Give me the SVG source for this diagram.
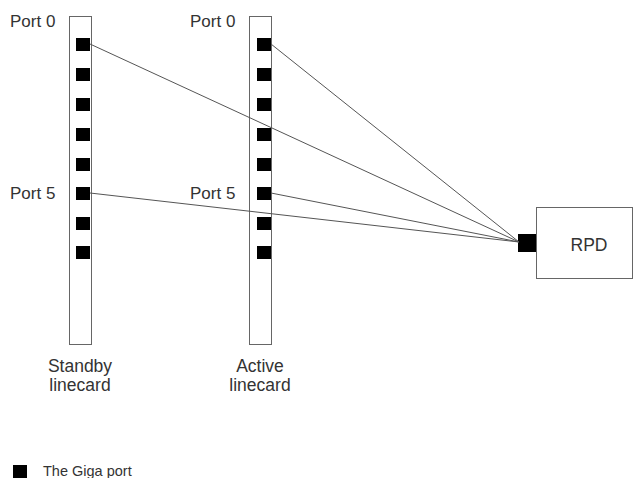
<svg xmlns="http://www.w3.org/2000/svg" width="634" height="478" viewBox="0 0 634 478">
<style>
.card{fill:#fff;stroke:#666;stroke-width:1}
.port{fill:#000}
.lbl{font-family:"Liberation Sans",Arial,sans-serif;fill:#333;font-size:17px}
.big{font-size:17.5px}
.leg{font-size:14.5px}
.conn{stroke:#555;stroke-width:1;fill:none}
</style>
<rect width="634" height="478" fill="#fff"/>
<g id="standby">
<rect class="card" x="69.5" y="16.5" width="22" height="328"/>
<rect class="port" x="76" y="38" width="14" height="13"/>
<rect class="port" x="76" y="68" width="14" height="13"/>
<rect class="port" x="76" y="98" width="14" height="13"/>
<rect class="port" x="76" y="128" width="14" height="13"/>
<rect class="port" x="76" y="158" width="14" height="13"/>
<rect class="port" x="76" y="187" width="14" height="13"/>
<rect class="port" x="76" y="217" width="14" height="13"/>
<rect class="port" x="76" y="246" width="14" height="13"/>
<text class="lbl" x="10" y="27">Port 0</text>
<text class="lbl" x="10" y="199">Port 5</text>
<text class="lbl big" x="80" y="372" text-anchor="middle">Standby</text>
<text class="lbl big" x="80" y="391" text-anchor="middle">linecard</text>
</g>
<g id="active">
<rect class="card" x="249.5" y="16.5" width="22" height="328"/>
<rect class="port" x="257" y="38" width="14" height="13"/>
<rect class="port" x="257" y="68" width="14" height="13"/>
<rect class="port" x="257" y="98" width="14" height="13"/>
<rect class="port" x="257" y="128" width="14" height="13"/>
<rect class="port" x="257" y="158" width="14" height="13"/>
<rect class="port" x="257" y="187" width="14" height="13"/>
<rect class="port" x="257" y="217" width="14" height="13"/>
<rect class="port" x="257" y="246" width="14" height="13"/>
<text class="lbl" x="190" y="27">Port 0</text>
<text class="lbl" x="190" y="199">Port 5</text>
<text class="lbl big" x="260" y="372" text-anchor="middle">Active</text>
<text class="lbl big" x="260" y="391" text-anchor="middle">linecard</text>
</g>
<g id="rpd">
<rect class="card" x="536.5" y="207.5" width="96" height="71"/>
<rect class="port" x="518" y="234" width="18" height="18"/>
<text class="lbl big" x="589" y="251" text-anchor="middle">RPD</text>
</g>
<g id="connectors">
<line class="conn" x1="90" y1="44" x2="519" y2="242"/>
<line class="conn" x1="271" y1="44" x2="519" y2="242"/>
<line class="conn" x1="90" y1="193" x2="519" y2="242"/>
<line class="conn" x1="271" y1="193" x2="519" y2="242"/>
</g>
<g id="legend">
<rect class="port" x="13" y="465" width="14" height="13"/>
<text class="lbl leg" x="43" y="476">The Giga port</text>
</g>
</svg>
